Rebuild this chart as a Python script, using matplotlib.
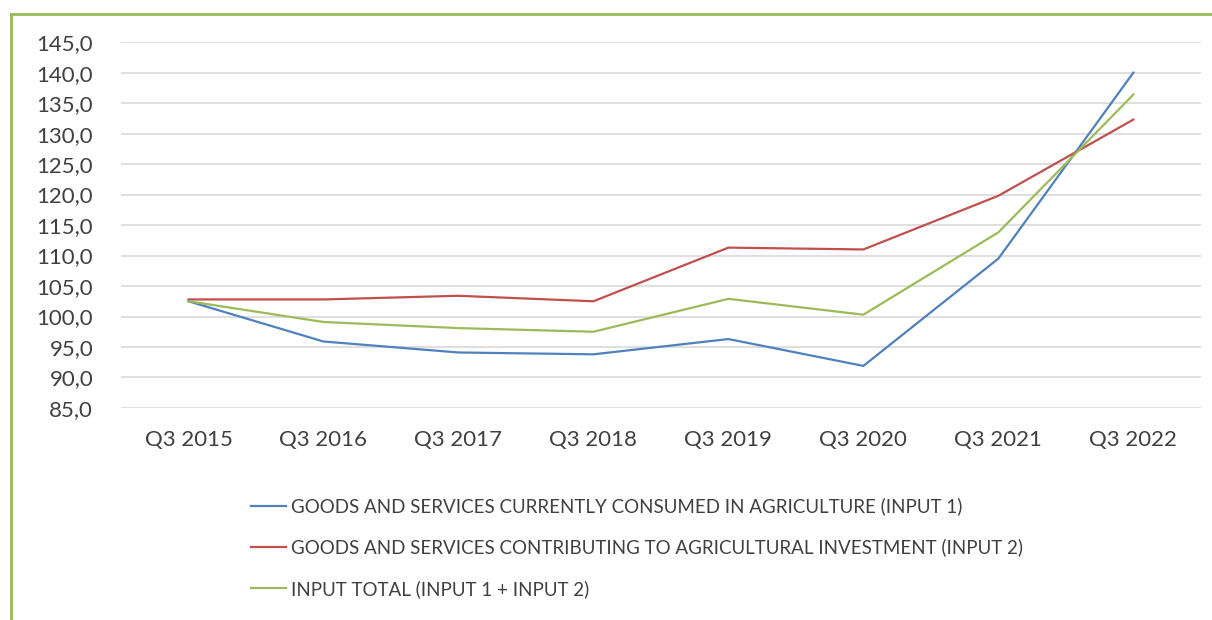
import matplotlib.pyplot as plt
from matplotlib.lines import Line2D
from matplotlib.ticker import FuncFormatter

BLUE_COLOR  = '#4F81BD'
RED_COLOR   = '#C0504D'
GREEN_COLOR = '#9BBB59'
GRID_COLOR  = '#D9D9D9'
TEXT_COLOR  = '#404040'

quarters = ['Q3 2015', 'Q3 2016', 'Q3 2017', 'Q3 2018',
            'Q3 2019', 'Q3 2020', 'Q3 2021', 'Q3 2022']
input1 = [102.5, 95.9, 94.1, 93.8, 96.3, 91.9, 109.5, 140.0]
input2 = [102.8, 102.8, 103.4, 102.5, 111.3, 111.0, 119.8, 132.3]
input_total = [102.5, 99.1, 98.1, 97.5, 102.9, 100.3, 113.8, 136.4]
labels = ['GOODS AND SERVICES CURRENTLY CONSUMED IN AGRICULTURE (INPUT 1)',
          'GOODS AND SERVICES CONTRIBUTING TO AGRICULTURAL INVESTMENT (INPUT 2)',
          'INPUT TOTAL (INPUT 1 + INPUT 2)']
y_ticks = [85, 90, 95, 100, 105, 110, 115, 120, 125, 130, 135, 140, 145]

plt.rcParams['font.family'] = ['Lato', 'DejaVu Sans']

fig = plt.figure(figsize=(12.12, 6.2), dpi=100)
ax = fig.add_axes((0.0998, 0.342, 0.891, 0.590))

x = range(len(quarters))
ax.plot(x, input1, color=BLUE_COLOR, lw=1.6, label=labels[0])
ax.plot(x, input2, color=RED_COLOR, lw=1.6, label=labels[1])
ax.plot(x, input_total, color=GREEN_COLOR, lw=1.6, label=labels[2])

ax.set_xlim(-0.5, len(quarters) - 0.5)
ax.set_ylim(85, 145)
ax.set_yticks(y_ticks)
ax.yaxis.set_major_formatter(FuncFormatter(lambda v, p: ('%.1f' % v).replace('.', ',')))
ax.set_xticks(list(x))
ax.set_xticklabels(quarters)
ax.tick_params(axis='both', length=0, labelsize=16, colors=TEXT_COLOR)
ax.tick_params(axis='y', pad=20)
ax.tick_params(axis='x', pad=16)
ax.grid(axis='y', color=GRID_COLOR, lw=1.2)
ax.set_axisbelow(True)
for s in ax.spines.values():
    s.set_visible(False)

leg = fig.legend(loc='upper left', bbox_to_anchor=(0.193, 0.225),
                 frameon=False, fontsize=13.5, handlelength=1.9,
                 labelspacing=1.25, handletextpad=0.25)
for t in leg.get_texts():
    t.set_color(TEXT_COLOR)

# green frame round the chart (top and left edges show)
fig.add_artist(Line2D([0.009, 1.0], [0.977, 0.977], color=GREEN_COLOR, lw=2,
                      transform=fig.transFigure))
fig.add_artist(Line2D([0.009, 0.009], [0.0, 0.977], color=GREEN_COLOR, lw=2,
                      transform=fig.transFigure))

fig.savefig('out.png', dpi=100)
